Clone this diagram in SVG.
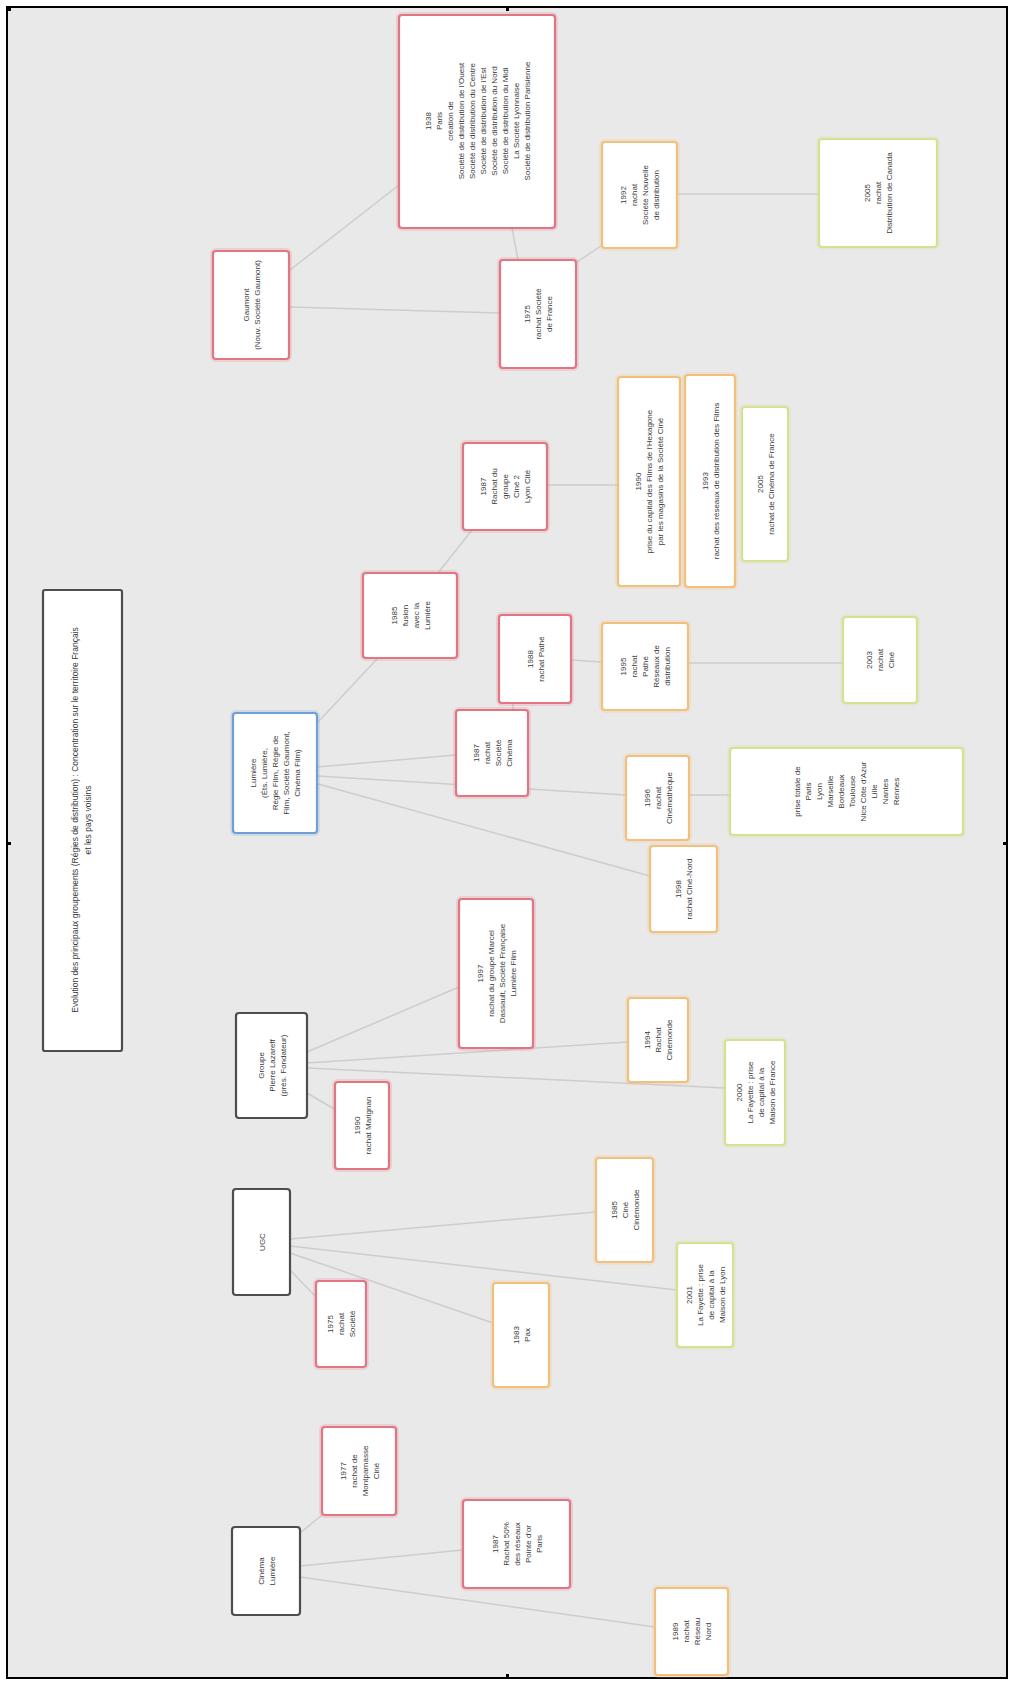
<svg xmlns="http://www.w3.org/2000/svg" width="1015" height="1690" viewBox="0 0 1015 1690">
<style>
.bg{fill:#e9e9e9;stroke:#000;stroke-width:2}
.tick{fill:#000}
.n{fill:#fff;stroke-width:2.2}
.h{fill:none;stroke-width:6;stroke-opacity:0.22}
.red{stroke:#e27583}
.org{stroke:#f2c07c}
.grn{stroke:#d6e092}
.blu{stroke:#6f9fd4}
.blk{stroke:#4d4d4d}
.t{font-family:"Liberation Sans",Arial,sans-serif;font-size:8px;fill:#3a3a3a;text-anchor:middle}
.tt{font-family:"Liberation Sans",Arial,sans-serif;font-size:8.5px;fill:#3a3a3a;text-anchor:middle}
#edges line{stroke:#cdcdcd;stroke-width:1.5}
</style>
<rect x="0" y="0" width="1015" height="1690" fill="#fff"/>
<rect class="bg" x="7" y="7" width="1000" height="1671"/>
<rect class="tick" x="7" y="8" width="4" height="3"/>
<rect class="tick" x="506" y="8" width="3" height="3"/>
<rect class="tick" x="506" y="1674" width="3" height="3"/>
<rect class="tick" x="1003" y="842" width="3" height="3"/>
<rect class="tick" x="8" y="842" width="3" height="3"/>

<g id="edges">
<line x1="290" y1="270" x2="399" y2="185"/>
<line x1="290" y1="307" x2="500" y2="313"/>
<line x1="512" y1="228" x2="518" y2="260"/>
<line x1="577" y1="262" x2="604" y2="244"/>
<line x1="677" y1="194" x2="819" y2="194"/>
<line x1="318" y1="722" x2="377" y2="659"/>
<line x1="438" y1="573" x2="472" y2="530"/>
<line x1="547" y1="485" x2="618" y2="485"/>
<line x1="317" y1="767" x2="456" y2="755"/>
<line x1="513" y1="710" x2="513" y2="703"/>
<line x1="571" y1="660" x2="602" y2="662"/>
<line x1="688" y1="663" x2="843" y2="663"/>
<line x1="317" y1="776" x2="626" y2="795"/>
<line x1="689" y1="795" x2="730" y2="795"/>
<line x1="318" y1="784" x2="650" y2="876"/>
<line x1="307" y1="1052" x2="459" y2="987"/>
<line x1="307" y1="1063" x2="628" y2="1042"/>
<line x1="307" y1="1068" x2="725" y2="1088"/>
<line x1="307" y1="1093" x2="336" y2="1110"/>
<line x1="290" y1="1239" x2="596" y2="1212"/>
<line x1="290" y1="1246" x2="677" y2="1290"/>
<line x1="290" y1="1253" x2="493" y2="1323"/>
<line x1="290" y1="1270" x2="316" y2="1297"/>
<line x1="300" y1="1533" x2="322" y2="1515"/>
<line x1="300" y1="1566" x2="463" y2="1550"/>
<line x1="300" y1="1577" x2="655" y2="1627"/>
</g>

<g id="title">
<rect class="n blk" x="43" y="590" width="79" height="461" rx="2" stroke-width="2.5"/>
<text class="tt" transform="translate(82,820) rotate(-90)"><tspan x="0" y="-4">Evolution des principaux groupements (Régies de distribution) : Concentration sur le territoire Français</tspan><tspan x="0" y="9">et les pays voisins</tspan></text>
</g>

<g id="n2">
<rect class="h red" x="213" y="251" width="76" height="108" rx="3"/>
<rect class="n red" x="213" y="251" width="76" height="108" rx="3"/>
<text class="t" transform="translate(251,305) rotate(-90)"><tspan x="0" y="-2.5">Gaumont</tspan><tspan x="0" y="8.5">(Nouv. Société Gaumont)</tspan></text>
</g>

<g id="n3">
<rect class="h red" x="399" y="15" width="156" height="213" rx="3"/>
<rect class="n red" x="399" y="15" width="156" height="213" rx="3"/>
<text class="t" transform="translate(477,121) rotate(-90)"><tspan x="0" y="-46.5">1938</tspan><tspan x="0" y="-35.5">Paris</tspan><tspan x="0" y="-24.5">création de</tspan><tspan x="0" y="-13.5">Société de distribution de l'Ouest</tspan><tspan x="0" y="-2.5">Société de distribution du Centre</tspan><tspan x="0" y="8.5">Société de distribution de l'Est</tspan><tspan x="0" y="19.5">Société de distribution du Nord</tspan><tspan x="0" y="30.5">Société de distribution du Midi</tspan><tspan x="0" y="41.5">La Société Lyonnaise</tspan><tspan x="0" y="52.5">Société de distribution Parisienne</tspan></text>
</g>

<g id="n4">
<rect class="h red" x="500" y="260" width="76" height="108" rx="3"/>
<rect class="n red" x="500" y="260" width="76" height="108" rx="3"/>
<text class="t" transform="translate(538,314) rotate(-90)"><tspan x="0" y="-8">1975</tspan><tspan x="0" y="3">rachat Société</tspan><tspan x="0" y="14">de France</tspan></text>
</g>

<g id="n5">
<rect class="h org" x="602" y="142" width="75" height="106" rx="3"/>
<rect class="n org" x="602" y="142" width="75" height="106" rx="3"/>
<text class="t" transform="translate(639.5,195) rotate(-90)"><tspan x="0" y="-13.5">1992</tspan><tspan x="0" y="-2.5">rachat</tspan><tspan x="0" y="8.5">Société Nouvelle</tspan><tspan x="0" y="19.5">de distribution</tspan></text>
</g>

<g id="n6">
<rect class="h grn" x="819" y="139" width="118" height="108" rx="3"/>
<rect class="n grn" x="819" y="139" width="118" height="108" rx="3"/>
<text class="t" transform="translate(878,193) rotate(-90)"><tspan x="0" y="-8">2005</tspan><tspan x="0" y="3">rachat</tspan><tspan x="0" y="14">Distribution de Canada</tspan></text>
</g>

<g id="n7">
<rect class="h blu" x="233" y="713" width="84" height="120" rx="3"/>
<rect class="n blu" x="233" y="713" width="84" height="120" rx="3"/>
<text class="t" transform="translate(275,773) rotate(-90)"><tspan x="0" y="-19">Lumière</tspan><tspan x="0" y="-8">(Éts. Lumière,</tspan><tspan x="0" y="3">Régie Film, Régie de</tspan><tspan x="0" y="14">Film, Société Gaumont,</tspan><tspan x="0" y="25">Cinéma Film)</tspan></text>
</g>

<g id="n8">
<rect class="h red" x="363" y="573" width="94" height="85" rx="3"/>
<rect class="n red" x="363" y="573" width="94" height="85" rx="3"/>
<text class="t" transform="translate(410,615.5) rotate(-90)"><tspan x="0" y="-13.5">1985</tspan><tspan x="0" y="-2.5">fusion</tspan><tspan x="0" y="8.5">avec la</tspan><tspan x="0" y="19.5">Lumière</tspan></text>
</g>

<g id="n9">
<rect class="h red" x="463" y="443" width="84" height="87" rx="3"/>
<rect class="n red" x="463" y="443" width="84" height="87" rx="3"/>
<text class="t" transform="translate(505,486.5) rotate(-90)"><tspan x="0" y="-19">1987</tspan><tspan x="0" y="-8">Rachat du</tspan><tspan x="0" y="3">groupe</tspan><tspan x="0" y="14">Ciné 2</tspan><tspan x="0" y="25">Lyon Cité</tspan></text>
</g>

<g id="n10">
<rect class="h red" x="499" y="615" width="72" height="88" rx="3"/>
<rect class="n red" x="499" y="615" width="72" height="88" rx="3"/>
<text class="t" transform="translate(535,659) rotate(-90)"><tspan x="0" y="-2.5">1988</tspan><tspan x="0" y="8.5">rachat Pathé</tspan></text>
</g>

<g id="n11">
<rect class="h red" x="456" y="710" width="72" height="86" rx="3"/>
<rect class="n red" x="456" y="710" width="72" height="86" rx="3"/>
<text class="t" transform="translate(492,753) rotate(-90)"><tspan x="0" y="-13.5">1987</tspan><tspan x="0" y="-2.5">rachat</tspan><tspan x="0" y="8.5">Société</tspan><tspan x="0" y="19.5">Cinéma</tspan></text>
</g>

<g id="n12">
<rect class="h org" x="618" y="377" width="62" height="209" rx="3"/>
<rect class="n org" x="618" y="377" width="62" height="209" rx="3"/>
<text class="t" transform="translate(649,481.5) rotate(-90)"><tspan x="0" y="-8">1990</tspan><tspan x="0" y="3">prise du capital des Films de l'Hexagone</tspan><tspan x="0" y="14">par les magasins de la Société Ciné</tspan></text>
</g>

<g id="n13">
<rect class="h org" x="685" y="375" width="50" height="212" rx="3"/>
<rect class="n org" x="685" y="375" width="50" height="212" rx="3"/>
<text class="t" transform="translate(710,481) rotate(-90)"><tspan x="0" y="-2.5">1993</tspan><tspan x="0" y="8.5">rachat des réseaux de distribution des Films</tspan></text>
</g>

<g id="n14">
<rect class="h grn" x="742" y="407" width="46" height="154" rx="3"/>
<rect class="n grn" x="742" y="407" width="46" height="154" rx="3"/>
<text class="t" transform="translate(765,484) rotate(-90)"><tspan x="0" y="-2.5">2005</tspan><tspan x="0" y="8.5">rachat de Cinéma de France</tspan></text>
</g>

<g id="n15">
<rect class="h org" x="602" y="623" width="86" height="87" rx="3"/>
<rect class="n org" x="602" y="623" width="86" height="87" rx="3"/>
<text class="t" transform="translate(645,666.5) rotate(-90)"><tspan x="0" y="-19">1995</tspan><tspan x="0" y="-8">rachat</tspan><tspan x="0" y="3">Pathé</tspan><tspan x="0" y="14">Réseaux de</tspan><tspan x="0" y="25">distribution</tspan></text>
</g>

<g id="n16">
<rect class="h grn" x="843" y="617" width="74" height="86" rx="3"/>
<rect class="n grn" x="843" y="617" width="74" height="86" rx="3"/>
<text class="t" transform="translate(880,660) rotate(-90)"><tspan x="0" y="-8">2003</tspan><tspan x="0" y="3">rachat</tspan><tspan x="0" y="14">Ciné</tspan></text>
</g>

<g id="n17">
<rect class="h org" x="626" y="756" width="63" height="84" rx="3"/>
<rect class="n org" x="626" y="756" width="63" height="84" rx="3"/>
<text class="t" transform="translate(657.5,798) rotate(-90)"><tspan x="0" y="-8">1996</tspan><tspan x="0" y="3">rachat</tspan><tspan x="0" y="14">Cinémathèque</tspan></text>
</g>

<g id="n18">
<rect class="h grn" x="730" y="748" width="233" height="87" rx="3"/>
<rect class="n grn" x="730" y="748" width="233" height="87" rx="3"/>
<text class="t" transform="translate(846.5,791.5) rotate(-90)"><tspan x="0" y="-46.5">prise totale de</tspan><tspan x="0" y="-35.5">Paris</tspan><tspan x="0" y="-24.5">Lyon</tspan><tspan x="0" y="-13.5">Marseille</tspan><tspan x="0" y="-2.5">Bordeaux</tspan><tspan x="0" y="8.5">Toulouse</tspan><tspan x="0" y="19.5">Nice Côte d'Azur</tspan><tspan x="0" y="30.5">Lille</tspan><tspan x="0" y="41.5">Nantes</tspan><tspan x="0" y="52.5">Rennes</tspan></text>
</g>

<g id="n19">
<rect class="h org" x="650" y="846" width="67" height="86" rx="3"/>
<rect class="n org" x="650" y="846" width="67" height="86" rx="3"/>
<text class="t" transform="translate(683.5,889) rotate(-90)"><tspan x="0" y="-2.5">1998</tspan><tspan x="0" y="8.5">rachat Ciné-Nord</tspan></text>
</g>

<g id="n20">
<rect class="h red" x="459" y="899" width="74" height="149" rx="3"/>
<rect class="n red" x="459" y="899" width="74" height="149" rx="3"/>
<text class="t" transform="translate(496,973.5) rotate(-90)"><tspan x="0" y="-13.5">1997</tspan><tspan x="0" y="-2.5">rachat du groupe Marcel</tspan><tspan x="0" y="8.5">Dassault, Société Française</tspan><tspan x="0" y="19.5">Lumière Film</tspan></text>
</g>

<g id="n21">
<rect class="n blk" x="236" y="1013" width="71" height="105" rx="3" stroke-width="2.6"/>
<text class="t" transform="translate(271.5,1065.5) rotate(-90)"><tspan x="0" y="-8">Groupe</tspan><tspan x="0" y="3">Pierre Lazareff</tspan><tspan x="0" y="14">(prés. Fondateur)</tspan></text>
</g>

<g id="n22">
<rect class="h red" x="335" y="1082" width="54" height="87" rx="3"/>
<rect class="n red" x="335" y="1082" width="54" height="87" rx="3"/>
<text class="t" transform="translate(362,1125.5) rotate(-90)"><tspan x="0" y="-2.5">1990</tspan><tspan x="0" y="8.5">rachat Marignan</tspan></text>
</g>

<g id="n23">
<rect class="h org" x="628" y="998" width="60" height="84" rx="3"/>
<rect class="n org" x="628" y="998" width="60" height="84" rx="3"/>
<text class="t" transform="translate(658,1040) rotate(-90)"><tspan x="0" y="-8">1994</tspan><tspan x="0" y="3">Rachat</tspan><tspan x="0" y="14">Cinémonde</tspan></text>
</g>

<g id="n24">
<rect class="h grn" x="725" y="1040" width="60" height="105" rx="3"/>
<rect class="n grn" x="725" y="1040" width="60" height="105" rx="3"/>
<text class="t" transform="translate(755,1092.5) rotate(-90)"><tspan x="0" y="-13.5">2000</tspan><tspan x="0" y="-2.5">La Fayette : prise</tspan><tspan x="0" y="8.5">de capital à la</tspan><tspan x="0" y="19.5">Maison de France</tspan></text>
</g>

<g id="n25">
<rect class="n blk" x="233" y="1189" width="57" height="106" rx="3" stroke-width="2.6"/>
<text class="t" transform="translate(261.5,1242) rotate(-90)"><tspan x="0" y="3">UGC</tspan></text>
</g>

<g id="n26">
<rect class="h red" x="316" y="1281" width="50" height="86" rx="3"/>
<rect class="n red" x="316" y="1281" width="50" height="86" rx="3"/>
<text class="t" transform="translate(341,1324) rotate(-90)"><tspan x="0" y="-8">1975</tspan><tspan x="0" y="3">rachat</tspan><tspan x="0" y="14">Société</tspan></text>
</g>

<g id="n27">
<rect class="h org" x="493" y="1283" width="56" height="104" rx="3"/>
<rect class="n org" x="493" y="1283" width="56" height="104" rx="3"/>
<text class="t" transform="translate(521,1335) rotate(-90)"><tspan x="0" y="-2.5">1983</tspan><tspan x="0" y="8.5">Pax</tspan></text>
</g>

<g id="n28">
<rect class="h org" x="596" y="1158" width="57" height="104" rx="3"/>
<rect class="n org" x="596" y="1158" width="57" height="104" rx="3"/>
<text class="t" transform="translate(624.5,1210) rotate(-90)"><tspan x="0" y="-8">1985</tspan><tspan x="0" y="3">Ciné</tspan><tspan x="0" y="14">Cinémonde</tspan></text>
</g>

<g id="n29">
<rect class="h grn" x="677" y="1243" width="56" height="104" rx="3"/>
<rect class="n grn" x="677" y="1243" width="56" height="104" rx="3"/>
<text class="t" transform="translate(705,1295) rotate(-90)"><tspan x="0" y="-13.5">2001</tspan><tspan x="0" y="-2.5">La Fayette : prise</tspan><tspan x="0" y="8.5">de capital à la</tspan><tspan x="0" y="19.5">Maison de Lyon</tspan></text>
</g>

<g id="n30">
<rect class="n blk" x="232" y="1527" width="68" height="88" rx="3" stroke-width="2.6"/>
<text class="t" transform="translate(266,1571) rotate(-90)"><tspan x="0" y="-2.5">Cinéma</tspan><tspan x="0" y="8.5">Lumière</tspan></text>
</g>

<g id="n31">
<rect class="h red" x="322" y="1427" width="74" height="88" rx="3"/>
<rect class="n red" x="322" y="1427" width="74" height="88" rx="3"/>
<text class="t" transform="translate(359,1471) rotate(-90)"><tspan x="0" y="-13.5">1977</tspan><tspan x="0" y="-2.5">rachat de</tspan><tspan x="0" y="8.5">Montparnasse</tspan><tspan x="0" y="19.5">Ciné</tspan></text>
</g>

<g id="n32">
<rect class="h red" x="463" y="1500" width="107" height="88" rx="3"/>
<rect class="n red" x="463" y="1500" width="107" height="88" rx="3"/>
<text class="t" transform="translate(516.5,1544) rotate(-90)"><tspan x="0" y="-19">1987</tspan><tspan x="0" y="-8">Rachat 50%</tspan><tspan x="0" y="3">des réseaux</tspan><tspan x="0" y="14">Pointe d'or</tspan><tspan x="0" y="25">Paris</tspan></text>
</g>

<g id="n33">
<rect class="h org" x="655" y="1588" width="73" height="87" rx="3"/>
<rect class="n org" x="655" y="1588" width="73" height="87" rx="3"/>
<text class="t" transform="translate(691.5,1631.5) rotate(-90)"><tspan x="0" y="-13.5">1989</tspan><tspan x="0" y="-2.5">rachat</tspan><tspan x="0" y="8.5">Réseau</tspan><tspan x="0" y="19.5">Nord</tspan></text>
</g>
</svg>
